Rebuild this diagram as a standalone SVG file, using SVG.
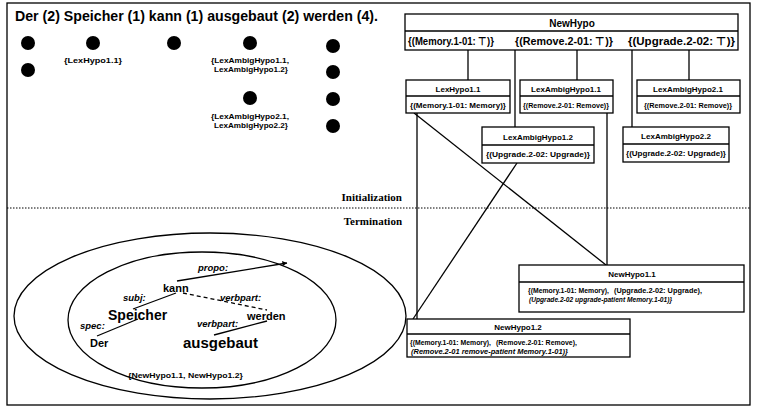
<svg xmlns="http://www.w3.org/2000/svg" width="757" height="411" viewBox="0 0 757 411">
<style>
.ln{stroke:#000;stroke-width:1.3;fill:none}
.bx{fill:#fff;stroke:#000;stroke-width:1.3}
.s{font-family:"Liberation Sans",Arial,sans-serif;font-weight:bold;fill:#000}
.i{font-style:italic}
.sr{font-family:"Liberation Serif","Times New Roman",serif;font-weight:bold;font-size:11px;fill:#000}
.t{font-size:8px}
.r{font-size:6.5px}
.m{text-anchor:middle}
.dot{fill:#000}
</style>
<rect x="0" y="0" width="757" height="411" fill="#fff"/>
<rect x="7" y="3" width="743" height="402" class="ln"/>
<line x1="7" y1="208" x2="750" y2="208" stroke="#000" stroke-width="1" stroke-dasharray="1.5 1.5"/>
<text class="sr" x="402" y="201" text-anchor="end">Initialization</text>
<text class="sr" x="402" y="225" text-anchor="end">Termination</text>

<g id="sentence">
<text class="s" x="15" y="21" font-size="14" textLength="363" lengthAdjust="spacingAndGlyphs">Der (2) Speicher (1) kann (1) ausgebaut (2) werden (4).</text>
<circle class="dot" cx="28" cy="43" r="7"/>
<circle class="dot" cx="28" cy="70" r="7"/>
<circle class="dot" cx="93" cy="43" r="7"/>
<circle class="dot" cx="174" cy="43" r="7"/>
<circle class="dot" cx="250" cy="43" r="7"/>
<circle class="dot" cx="250" cy="98" r="7"/>
<circle class="dot" cx="333" cy="46" r="7"/>
<circle class="dot" cx="333" cy="72" r="7"/>
<circle class="dot" cx="333" cy="99" r="7"/>
<circle class="dot" cx="333" cy="126" r="7"/>
<text class="s t m" x="93" y="63" textLength="58" lengthAdjust="spacingAndGlyphs">{LexHypo1.1}</text>
<text class="s t m" x="250" y="63" textLength="78" lengthAdjust="spacingAndGlyphs">{LexAmbigHypo1.1,</text>
<text class="s t m" x="251" y="72" textLength="74" lengthAdjust="spacingAndGlyphs">LexAmbigHypo1.2}</text>
<text class="s t m" x="250" y="119" textLength="78" lengthAdjust="spacingAndGlyphs">{LexAmbigHypo2.1,</text>
<text class="s t m" x="251" y="128" textLength="74" lengthAdjust="spacingAndGlyphs">LexAmbigHypo2.2}</text>
</g>

<g id="ellipses">
<ellipse cx="210" cy="316" rx="196" ry="83" class="ln" stroke-width="1.6"/>
<ellipse cx="202" cy="320" rx="134" ry="68" class="ln" stroke-width="1.6"/>
</g>

<g id="parse-tree">
<line class="ln" x1="177" y1="281" x2="287" y2="263"/>
<path d="M287 263 L282 261 L283 266 Z" fill="#000"/>
<line class="ln" x1="176" y1="293" x2="133" y2="309"/>
<line class="ln" x1="138" y1="319" x2="97" y2="336"/>
<line class="ln" x1="183" y1="293" x2="267" y2="310" stroke-dasharray="4 3"/>
<line class="ln" x1="267" y1="321" x2="214" y2="335"/>
<text class="s i" x="198" y="271" font-size="9.5">propo:</text>
<text class="s" x="163" y="292" font-size="11">kann</text>
<text class="s i" x="123" y="301" font-size="9.5">subj:</text>
<text class="s i" x="220" y="301" font-size="9.5">verbpart:</text>
<text class="s" x="108" y="320" font-size="14">Speicher</text>
<text class="s" x="247" y="320" font-size="11">werden</text>
<text class="s i" x="80" y="329" font-size="9.5">spec:</text>
<text class="s i" x="197" y="327" font-size="9.5">verbpart:</text>
<text class="s" x="90" y="347" font-size="11">Der</text>
<text class="s" x="183" y="348" font-size="15">ausgebaut</text>
<text class="s" x="128" y="378" font-size="8" textLength="115" lengthAdjust="spacingAndGlyphs">{NewHypo1.1, NewHypo1.2}</text>
</g>

<g id="connectors">
<line class="ln" x1="468" y1="50" x2="468" y2="80"/>
<line class="ln" x1="515" y1="50" x2="515" y2="127"/>
<line class="ln" x1="577" y1="50" x2="577" y2="80"/>
<line class="ln" x1="632" y1="50" x2="632" y2="127"/>
<line class="ln" x1="689" y1="50" x2="689" y2="80"/>
<line class="ln" x1="417" y1="113" x2="417" y2="319"/>
<line class="ln" x1="414" y1="113" x2="606" y2="265"/>
<line class="ln" x1="607" y1="113" x2="607" y2="265"/>
<line class="ln" x1="517" y1="163" x2="413" y2="319"/>
</g>

<g id="NewHypo">
<rect class="bx" x="405" y="14" width="333" height="36"/>
<line class="ln" x1="405" y1="31" x2="738" y2="31"/>
<text class="s m" x="572" y="27" font-size="10">NewHypo</text>
<text class="s" x="408" y="45" font-size="11" textLength="86" lengthAdjust="spacingAndGlyphs">{(Memory.1-01: ⊤)}</text>
<text class="s" x="515" y="45" font-size="11" textLength="98" lengthAdjust="spacingAndGlyphs">{(Remove.2-01: ⊤)}</text>
<text class="s" x="628" y="45" font-size="11" textLength="107" lengthAdjust="spacingAndGlyphs">{(Upgrade.2-02: ⊤)}</text>
</g>

<g id="LexHypo1.1">
<rect class="bx" x="406" y="80" width="104" height="33"/>
<line class="ln" x1="406" y1="96" x2="510" y2="96"/>
<text class="s t m" x="458" y="92">LexHypo1.1</text>
<text class="s r m" x="458" y="108" textLength="96" lengthAdjust="spacingAndGlyphs">{(Memory.1-01: Memory)}</text>
</g>

<g id="LexAmbigHypo1.1">
<rect class="bx" x="520" y="80" width="93" height="33"/>
<line class="ln" x1="520" y1="96" x2="613" y2="96"/>
<text class="s t m" x="566" y="92">LexAmbigHypo1.1</text>
<text class="s r m" x="566" y="108" textLength="86" lengthAdjust="spacingAndGlyphs">{(Remove.2-01: Remove)}</text>
</g>

<g id="LexAmbigHypo2.1">
<rect class="bx" x="637" y="80" width="103" height="33"/>
<line class="ln" x1="637" y1="96" x2="740" y2="96"/>
<text class="s t m" x="688" y="92">LexAmbigHypo2.1</text>
<text class="s r m" x="688" y="108" textLength="88" lengthAdjust="spacingAndGlyphs">{(Remove.2-01: Remove)}</text>
</g>

<g id="LexAmbigHypo1.2">
<rect class="bx" x="482" y="127" width="112" height="36"/>
<line class="ln" x1="482" y1="145" x2="594" y2="145"/>
<text class="s t m" x="538" y="140">LexAmbigHypo1.2</text>
<text class="s r m" x="538" y="157" textLength="104" lengthAdjust="spacingAndGlyphs">{(Upgrade.2-02: Upgrade)}</text>
</g>

<g id="LexAmbigHypo2.2">
<rect class="bx" x="623" y="127" width="106" height="35"/>
<line class="ln" x1="623" y1="144" x2="729" y2="144"/>
<text class="s t m" x="676" y="139">LexAmbigHypo2.2</text>
<text class="s r m" x="676" y="156" textLength="100" lengthAdjust="spacingAndGlyphs">{(Upgrade.2-02: Upgrade)}</text>
</g>

<g id="NewHypo1.1">
<rect class="bx" x="519" y="265" width="225" height="47"/>
<line class="ln" x1="519" y1="282" x2="744" y2="282"/>
<text class="s t m" x="632" y="277">NewHypo1.1</text>
<text class="s r" x="528" y="293" textLength="81" lengthAdjust="spacingAndGlyphs">{(Memory.1-01: Memory),</text>
<text class="s r" x="614" y="293" textLength="88" lengthAdjust="spacingAndGlyphs">(Upgrade.2-02: Upgrade),</text>
<text class="s r i" x="529" y="302" textLength="143" lengthAdjust="spacingAndGlyphs">(Upgrade.2-02 upgrade-patient Memory.1-01)}</text>
</g>

<g id="NewHypo1.2">
<rect class="bx" x="407" y="319" width="223" height="38"/>
<line class="ln" x1="407" y1="334" x2="630" y2="334"/>
<text class="s t m" x="518" y="330">NewHypo1.2</text>
<text class="s r" x="410" y="345" textLength="81" lengthAdjust="spacingAndGlyphs">{(Memory.1-01: Memory),</text>
<text class="s r" x="496" y="345" textLength="81" lengthAdjust="spacingAndGlyphs">(Remove.2-01: Remove),</text>
<text class="s r i" x="411" y="354" textLength="157" lengthAdjust="spacingAndGlyphs">(Remove.2-01 remove-patient Memory.1-01)}</text>
</g>
</svg>
